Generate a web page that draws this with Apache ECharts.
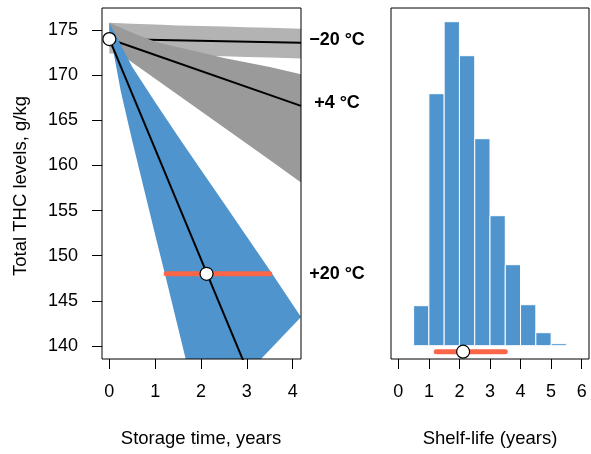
<!DOCTYPE html>
<html>
<head>
<meta charset="utf-8">
<script src="https://cdn.jsdelivr.net/npm/echarts@6/dist/echarts.min.js"></script>
<style>html,body{margin:0;padding:0;background:#fff}#c{width:591px;height:454px}</style>
</head>
<body>
<div id="c"></div>
<script>
// ---- data ----
var xTicksLeft = [0, 1, 2, 3, 4];
var yTicksLeft = [140, 145, 150, 155, 160, 165, 170, 175];
var xTicksHist = [0, 1, 2, 3, 4, 5, 6];

var bandT = [0, 0.5, 1.0, 1.5, 2.0, 2.5, 3.0, 3.5, 4.1808];
var m20Upper = [175.8, 175.7, 175.6, 175.5, 175.45, 175.4, 175.3, 175.25, 175.15];
var m20Lower = [172.4, 172.35, 172.3, 172.25, 172.15, 172.1, 172.0, 171.95, 171.85];
var p4Upper  = [175.8, 174.7, 173.7, 173.1, 172.5, 171.9, 171.4, 170.9, 170.1];
var p4Lower  = [173.2, 171.4, 169.6, 167.8, 166.0, 164.2, 162.4, 160.6, 158.1];
var p20Upper = [175.8, 170.9, 167.0, 163.2, 159.5, 155.8, 152.1, 148.4, 143.2];
var p20T     = [0, 0.25, 0.5, 0.75, 1.0, 1.25, 1.5, 1.75, 2.0];
var p20Lower = [175.0, 168.2, 162.7, 157.5, 152.3, 147.2, 142.0, 136.8, 131.6];

var lineM20 = [[0, 174.0], [4.1808, 173.6]];
var lineP4  = [[0, 174.0], [4.1808, 166.6]];
var lineP20 = [[0, 174.0], [4.1808, 123.0]];

var startLevel = 174.0;
var limitLevel = 148.0;
var shelfMedian = 2.12;
var shelfLow = 1.24;
var shelfHigh = 3.50;

var binStart = [0.5, 1.0, 1.5, 2.0, 2.5, 3.0, 3.5, 4.0, 4.5, 5.0, 5.5];
var binWidth = 0.5;
var binCount = [40, 252, 324, 290, 207, 130, 81, 41, 13, 2, 0];

var bandLabels = ['\u221220 \u00b0C', '+4 \u00b0C', '+20 \u00b0C'];

// ---- chart ----
var FONT = '"Liberation Sans", Arial, Helvetica, sans-serif';
var chart = echarts.init(document.getElementById('c'), null, {renderer: 'canvas'});

// Sutherland–Hodgman clipping of a polygon against a rectangle (pixel space)
function clipPoly(pts, r) {
  var edges = [
    function (p) { return p[0] >= r.x; },
    function (p) { return p[0] <= r.x + r.width; },
    function (p) { return p[1] >= r.y; },
    function (p) { return p[1] <= r.y + r.height; }
  ];
  var inter = [
    function (a, b) { var t = (r.x - a[0]) / (b[0] - a[0]); return [r.x, a[1] + t * (b[1] - a[1])]; },
    function (a, b) { var X = r.x + r.width; var t = (X - a[0]) / (b[0] - a[0]); return [X, a[1] + t * (b[1] - a[1])]; },
    function (a, b) { var t = (r.y - a[1]) / (b[1] - a[1]); return [a[0] + t * (b[0] - a[0]), r.y]; },
    function (a, b) { var Y = r.y + r.height; var t = (Y - a[1]) / (b[1] - a[1]); return [a[0] + t * (b[0] - a[0]), Y]; }
  ];
  var out = pts;
  for (var e = 0; e < 4; e++) {
    var inp = out; out = [];
    if (!inp.length) break;
    for (var i = 0; i < inp.length; i++) {
      var cur = inp[i], prev = inp[(i + inp.length - 1) % inp.length];
      var ci = edges[e](cur), pi = edges[e](prev);
      if (ci) { if (!pi) out.push(inter[e](prev, cur)); out.push(cur); }
      else if (pi) out.push(inter[e](prev, cur));
    }
  }
  return out;
}

function band(ts, lo, hi, color, z, ts2) {
  var tl = ts2 || ts;
  return {
    type: 'custom', xAxisIndex: 0, yAxisIndex: 0, silent: true, z: z,
    data: [[0, 0]],
    renderItem: function (params, api) {
      var pts = [];
      for (var i = 0; i < ts.length; i++) pts.push(api.coord([ts[i], hi[i]]));
      for (var j = tl.length - 1; j >= 0; j--) pts.push(api.coord([tl[j], lo[j]]));
      var cs = params.coordSys;
      var clipped = clipPoly(pts, {x: cs.x, y: cs.y, width: cs.width, height: cs.height});
      return {type: 'polygon', shape: {points: clipped}, style: {fill: color}};
    }
  };
}
function blackLine(d, z) {
  return {type: 'line', xAxisIndex: 0, yAxisIndex: 0, data: d, symbol: 'none', clip: true, silent: true,
    lineStyle: {color: '#000', width: 2}, z: z};
}

var axisCommonX = function (ticks) {
  return {
    axisLine: {show: false, onZero: false},
    axisTick: {show: true, length: 10, inside: false, customValues: ticks, lineStyle: {color: '#000', width: 1}},
    axisLabel: {show: true, customValues: ticks, margin: 24, fontSize: 18, color: '#000', fontFamily: FONT},
    splitLine: {show: false}
  };
};

var option = {
  animation: false,
  backgroundColor: '#fff',
  grid: [
    {left: 102, top: 8, width: 199, height: 351, show: true, borderColor: '#000', borderWidth: 1, backgroundColor: 'transparent', z: 20},
    {left: 391, top: 8, width: 198, height: 351, show: true, borderColor: '#000', borderWidth: 1, backgroundColor: 'transparent', z: 20}
  ],
  xAxis: [
    Object.assign({type: 'value', gridIndex: 0, min: -0.1608, max: 4.1808}, axisCommonX(xTicksLeft)),
    Object.assign({type: 'value', gridIndex: 1, min: -0.24, max: 6.24}, axisCommonX(xTicksHist))
  ],
  yAxis: [
    {type: 'value', gridIndex: 0, min: 138.56, max: 177.44,
      axisLine: {show: false, onZero: false},
      axisTick: {show: true, length: 10, customValues: yTicksLeft, lineStyle: {color: '#000', width: 1}},
      axisLabel: {show: true, customValues: yTicksLeft, margin: 24, fontSize: 18, color: '#000', fontFamily: FONT},
      splitLine: {show: false}},
    {type: 'value', gridIndex: 1, min: -13.3, max: 337.7,
      axisLine: {show: false, onZero: false}, axisTick: {show: false}, axisLabel: {show: false}, splitLine: {show: false}}
  ],
  series: [
    band(bandT, m20Lower, m20Upper, '#b3b3b3', 1),
    blackLine(lineM20, 2),
    band(bandT, p4Lower, p4Upper, '#9a9a9a', 3),
    blackLine(lineP4, 4),
    band(bandT, p20Lower, p20Upper, '#4f94cd', 5, p20T),
    blackLine(lineP20, 6),
    {type: 'line', xAxisIndex: 0, yAxisIndex: 0, data: [[shelfLow, limitLevel], [shelfHigh, limitLevel]],
      symbol: 'none', silent: true, z: 7, lineStyle: {color: '#fb6548', width: 5, cap: 'round'}},
    {type: 'scatter', xAxisIndex: 0, yAxisIndex: 0, data: [[0, startLevel], [shelfMedian, limitLevel]],
      symbol: 'circle', symbolSize: 13, silent: true, z: 8, clip: false,
      itemStyle: {color: '#fff', borderColor: '#000', borderWidth: 1.2, opacity: 1}},
    {type: 'custom', xAxisIndex: 1, yAxisIndex: 1, silent: true, z: 2,
      data: binStart.map(function (s, i) { return [s, s + binWidth, binCount[i]]; }),
      renderItem: function (params, api) {
        var p0 = api.coord([api.value(0), 0]);
        var p1 = api.coord([api.value(1), api.value(2)]);
        return {type: 'rect', shape: {x: p0[0], y: p1[1], width: p1[0] - p0[0], height: p0[1] - p1[1]},
          style: {fill: '#4f94cd', stroke: '#fff', lineWidth: 1}};
      }},
    {type: 'line', xAxisIndex: 1, yAxisIndex: 1, data: [[shelfLow, -6], [shelfHigh, -6]],
      symbol: 'none', silent: true, z: 3, lineStyle: {color: '#fb6548', width: 5, cap: 'round'}},
    {type: 'scatter', xAxisIndex: 1, yAxisIndex: 1, data: [[shelfMedian, -6]],
      symbol: 'circle', symbolSize: 13, silent: true, z: 4, clip: false,
      itemStyle: {color: '#fff', borderColor: '#000', borderWidth: 1.2, opacity: 1}}
  ],
  graphic: [
    {type: 'text', x: 337, y: 40, style: {text: bandLabels[0], font: 'bold 18px ' + FONT, fill: '#000', align: 'center', verticalAlign: 'middle'}},
    {type: 'text', x: 337, y: 103, style: {text: bandLabels[1], font: 'bold 18px ' + FONT, fill: '#000', align: 'center', verticalAlign: 'middle'}},
    {type: 'text', x: 337, y: 274, style: {text: bandLabels[2], font: 'bold 18px ' + FONT, fill: '#000', align: 'center', verticalAlign: 'middle'}},
    {type: 'text', x: 201, y: 439, style: {text: 'Storage time, years', font: '18.5px ' + FONT, fill: '#000', align: 'center', verticalAlign: 'middle'}},
    {type: 'text', x: 490, y: 439, style: {text: 'Shelf-life (years)', font: '18.5px ' + FONT, fill: '#000', align: 'center', verticalAlign: 'middle'}},
    {type: 'text', x: 21, y: 186, rotation: Math.PI / 2, style: {text: 'Total THC levels, g/kg', font: '18.5px ' + FONT, fill: '#000', align: 'center', verticalAlign: 'middle'}}
  ]
};
chart.setOption(option);
</script>
</body>
</html>
